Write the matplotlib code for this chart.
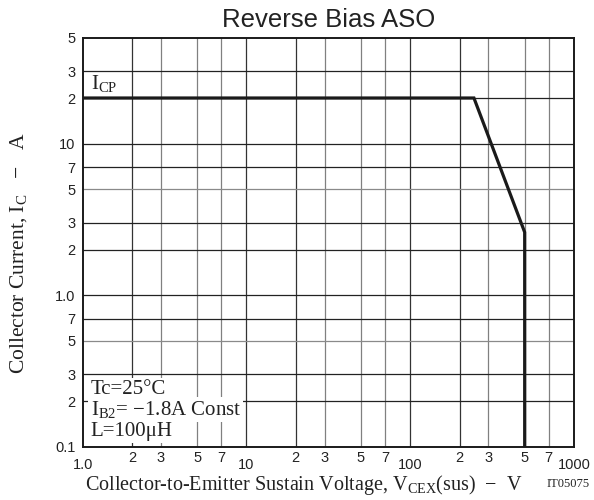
import matplotlib
matplotlib.use("Agg")
import matplotlib.pyplot as plt
from matplotlib.ticker import FixedLocator, FixedFormatter

plt.rcParams['mathtext.fontset'] = 'custom'
plt.rcParams['mathtext.rm'] = 'Liberation Serif'
plt.rcParams['mathtext.it'] = 'Liberation Serif:italic'

# ---- data ----
vce = [1, 245, 500, 500]          # V
ic = [20, 20, 2.6, 0.1]           # A

x_major = [1, 10, 100, 1000]
x_major_labels = ['1.0', '10', '100', '1000']
x_minor = [2, 3, 5, 7, 20, 30, 50, 70, 200, 300, 500, 700]
x_minor_labels = ['2', '3', '5', '7', '2', '3', '5', '7', '2', '3', '5', '7']

y_major = [0.1, 1, 10]
y_major_labels = ['0.1', '1.0', '10']
y_minor = [0.2, 0.3, 0.5, 0.7, 2, 3, 5, 7, 20, 30, 50]
y_minor_labels = ['2', '3', '5', '7', '2', '3', '5', '7', '2', '3', '5']

title = 'Reverse Bias ASO'
xlabel = r'Collector-to-Emitter Sustain Voltage, V$_{\mathrm{CEX}}$(sus)  $\mathrm{-}$  V'
ylabel = r'Collector Current, I$_{\mathrm{C}}$   $\mathrm{-}$   A'
notes = ['Tc=25°C', r'I$_{\mathrm{B2}}$= −1.8A Const', 'L=100μH']

# ---- figure ----
fig = plt.figure(figsize=(5.94, 5.0), dpi=100)
ax = fig.add_axes([0.1392, 0.1066, 0.8271, 0.818])
ax.set_xscale('log')
ax.set_yscale('log')
ax.set_xlim(1, 1000)
ax.set_ylim(0.1, 50)

# grid
for v in x_major + x_minor:
    if v in (1, 1000):
        continue
    col = '#333333' if v in x_major or str(v)[0] == '2' else '#808080'
    ax.axvline(v, color=col, lw=0.9, zorder=1)
for v in y_major + y_minor:
    if v in (0.1, 50):
        continue
    col = '#8a8a8a' if str(v).rstrip('0').rstrip('.')[-1] == '5' else '#222222'
    ax.axhline(v, color=col, lw=0.9, zorder=1)

ax.plot(vce, ic, color='#1a1a1a', lw=2.3, zorder=3, solid_joinstyle='miter')

# ticks
ax.xaxis.set_major_locator(FixedLocator(x_major))
ax.xaxis.set_major_formatter(FixedFormatter(x_major_labels))
ax.xaxis.set_minor_locator(FixedLocator(x_minor))
ax.xaxis.set_minor_formatter(FixedFormatter(x_minor_labels))
ax.yaxis.set_major_locator(FixedLocator(y_major))
ax.yaxis.set_major_formatter(FixedFormatter(y_major_labels))
ax.yaxis.set_minor_locator(FixedLocator(y_minor))
ax.yaxis.set_minor_formatter(FixedFormatter(y_minor_labels))

ax.tick_params(axis='x', which='major', length=0, pad=8)
ax.tick_params(axis='x', which='minor', length=0, pad=3)
ax.tick_params(axis='y', which='both', length=0, pad=5)
for lab in ax.get_xticklabels(which='both') + ax.get_yticklabels(which='both'):
    lab.set_fontfamily('Liberation Sans')
    lab.set_fontsize(10.5)
    lab.set_color('#222222')

for s in ax.spines.values():
    s.set_linewidth(1.4)
    s.set_color('#1a1a1a')
    s.set_zorder(4)

ax.set_title(title, fontfamily='Liberation Sans', fontsize=18.5, color='#222222', pad=8)
ax.set_xlabel(xlabel, fontfamily='Liberation Serif', fontsize=14.5, color='#222222')
ax.set_ylabel(ylabel, fontfamily='Liberation Serif', fontsize=15.5, color='#222222')
ax.xaxis.set_label_coords(0.005, -0.106)
ax.xaxis.label.set_ha('left')
ax.xaxis.label.set_va('baseline')
ax.yaxis.set_label_coords(-0.13, 0.4736)
ax.yaxis.label.set_va('center')

ax.text(0.016, 0.8746, r'I$_{\mathrm{CP}}$', transform=ax.transAxes,
        fontfamily='Liberation Serif', fontsize=15, va='baseline', color='#222222', zorder=5)

for txt, yb in zip(notes, [0.129, 0.0775, 0.026]):
    ax.text(0.016, yb, txt, transform=ax.transAxes, fontfamily='Liberation Serif',
            fontsize=15, va='baseline', color='#222222', zorder=5,
            bbox=dict(facecolor='white', edgecolor='none', pad=1.5))

fig.text(0.993, 0.026, 'IT05075', fontfamily='Liberation Serif', fontsize=9,
         ha='right', va='baseline', color='#222222')

fig.savefig('out.png', dpi=100, facecolor='white')
